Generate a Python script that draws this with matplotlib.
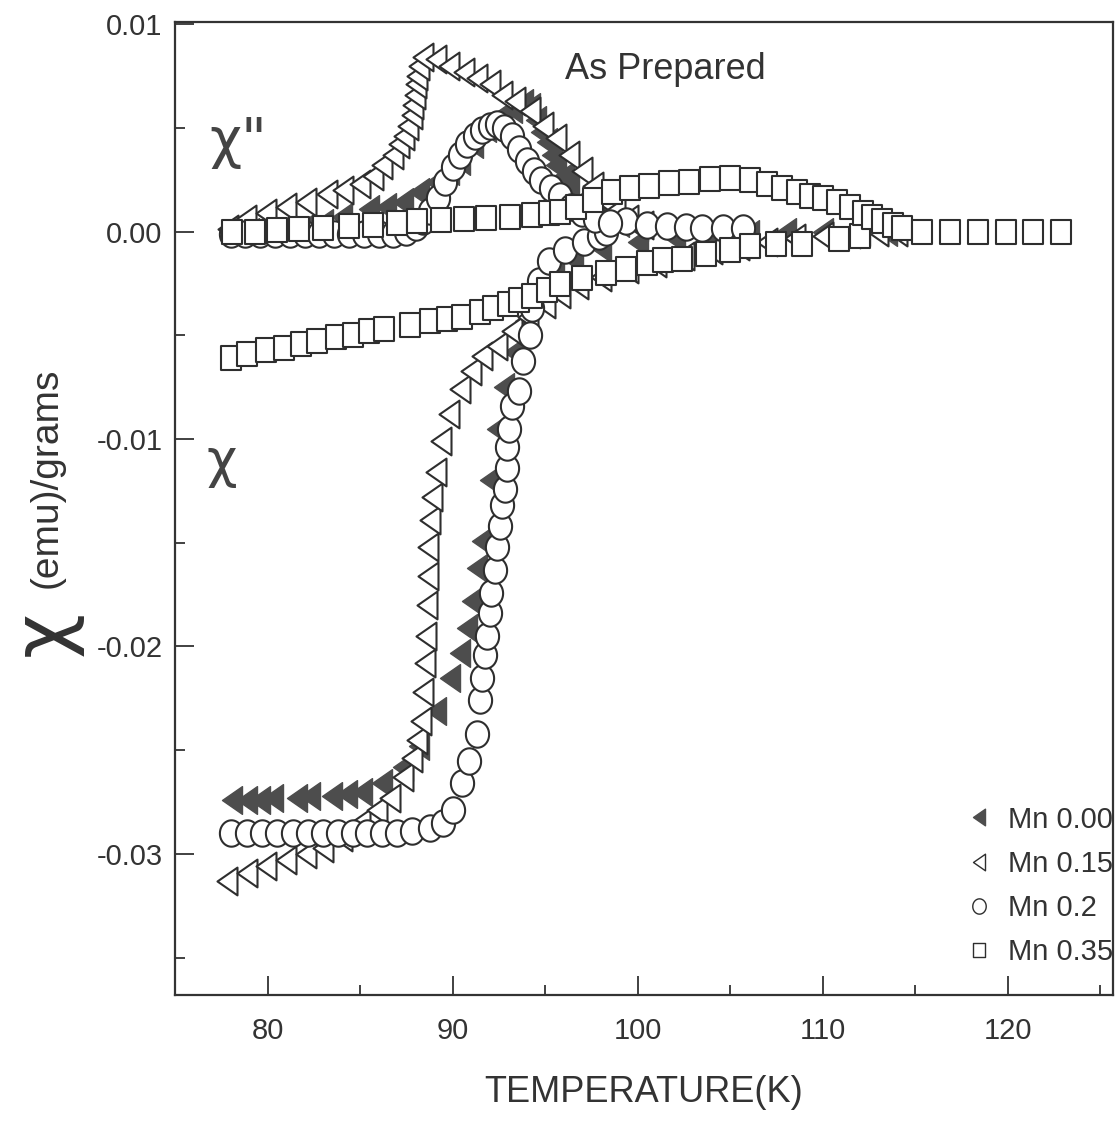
import numpy as np
import matplotlib
matplotlib.use("Agg")
import matplotlib.pyplot as plt
from matplotlib.path import Path
from matplotlib.lines import Line2D

plt.rcParams['font.family'] = ['Liberation Sans', 'DejaVu Sans']

# ---- data ----
# Mn 0.00 (filled triangles)
t00_real = [78.1, 78.9, 79.6, 80.3, 81.6, 82.3, 83.5, 84.3, 85.1, 86.2, 87.3, 88.2, 89.1,
            89.84, 90.38, 90.76, 91.03, 91.35, 91.57, 92.0, 92.4, 92.8, 93.3, 93.9, 94.6,
            95.5, 96.5, 98.0, 100.0, 102.0, 104.0, 106.0, 108.0, 110.0, 112.0, 113.5]
chi00_real = [-0.0274, -0.0274, -0.0274, -0.0273, -0.0273, -0.0272, -0.0272, -0.0271, -0.0270,
              -0.0266, -0.0258, -0.0248, -0.0231, -0.0215, -0.0203, -0.0191, -0.0178, -0.0162,
              -0.0149, -0.0120, -0.0095, -0.0075, -0.0058, -0.0043, -0.0030, -0.0020, -0.0013,
              -0.0008, -0.0005, -0.0003, -0.0002, -0.0001, 0.0, 0.0, 0.0, 0.0]
t00_imag = [78.0, 79.0, 80.0, 81.0, 82.0, 83.0, 84.0, 85.5, 86.4, 87.3, 88.2, 89.1, 89.8,
            90.4, 91.1, 91.8, 92.3, 92.7, 93.2, 93.8, 94.2, 94.5, 94.8, 95.1, 95.4, 95.6,
            96.0, 96.3, 97.0, 98.0, 99.0, 100.0]
chi00_imag = [0.0, 0.0, 0.0, 0.0001, 0.0002, 0.0004, 0.0007, 0.0011, 0.0012, 0.0014, 0.0019,
              0.0024, 0.0029, 0.0034, 0.0042, 0.0050, 0.0053, 0.0056, 0.0059, 0.0062, 0.0060,
              0.0054, 0.0048, 0.0043, 0.0037, 0.0032, 0.0027, 0.0023, 0.0015, 0.0008, 0.0004, 0.0002]

# Mn 0.15 (open triangles)
t15_real = [77.8, 78.9, 79.9, 81.0, 82.1, 83.0, 84.0, 85.0, 85.9, 86.6, 87.3, 87.8, 88.1,
            88.3, 88.4, 88.5, 88.55, 88.6, 88.65, 88.7, 88.8, 88.9, 89.1, 89.4, 89.8, 90.4,
            91.0, 91.6, 92.4, 93.2, 94.1, 95.0, 95.8, 96.8, 98.0, 99.5, 101.0, 102.5, 104.0,
            105.5, 107.0, 108.5, 110.0, 111.5, 113.0, 114.0]
chi15_real = [-0.0313, -0.0309, -0.0306, -0.0303, -0.0300, -0.0297, -0.0292, -0.0285, -0.0279,
              -0.0273, -0.0263, -0.0254, -0.0245, -0.0236, -0.0222, -0.0208, -0.0195, -0.0180,
              -0.0166, -0.0152, -0.0139, -0.0128, -0.0116, -0.0101, -0.0088, -0.0076, -0.0067,
              -0.0060, -0.0055, -0.0048, -0.0041, -0.0035, -0.0030, -0.0026, -0.0022, -0.0018,
              -0.0015, -0.0012, -0.0009, -0.0007, -0.0005, -0.0003, -0.0002, -0.0001, 0.0, 0.0]
t15_imag = [77.86, 78.85, 79.93, 81.0, 82.1, 83.2, 84.1, 85.0, 85.7, 86.2, 86.8, 87.1, 87.4,
            87.6, 87.8, 87.85, 87.95, 88.04, 88.1, 88.2, 88.4, 89.1, 89.8, 90.6, 91.3, 92.0,
            92.7, 93.4, 94.2, 94.9, 95.6, 96.3, 97.0, 97.6, 98.2, 98.8, 99.5, 100.3]
chi15_imag = [0.0001, 0.0006, 0.0009, 0.0012, 0.0014, 0.0018, 0.0020, 0.0023, 0.0027, 0.0032,
              0.0037, 0.0042, 0.0046, 0.0051, 0.0056, 0.0061, 0.0066, 0.0071, 0.0075, 0.0080,
              0.0084, 0.0083, 0.0080, 0.0077, 0.0074, 0.0071, 0.0066, 0.0063, 0.0058, 0.0051,
              0.0045, 0.0037, 0.0029, 0.0022, 0.0015, 0.0010, 0.0006, 0.0003]

# Mn 0.2 (circles)
t20_real = [78.0, 78.9, 79.7, 80.5, 81.4, 82.2, 83.0, 83.8, 84.6, 85.4, 86.2, 87.0, 87.8,
            88.8, 89.5, 90.0, 90.5, 90.9, 91.3, 91.46, 91.62, 91.73, 91.89, 92.0, 92.1, 92.27,
            92.38, 92.54, 92.65, 92.81, 92.92, 92.97, 93.08, 93.24, 93.6, 93.8, 94.2, 94.3,
            94.7, 95.2, 96.1, 97.1, 97.9, 98.3, 99.4, 100.5, 101.6, 102.6, 103.5, 104.6, 105.7]
chi20_real = [-0.0290, -0.0290, -0.0290, -0.0290, -0.0290, -0.0290, -0.0290, -0.0290, -0.0290,
              -0.0290, -0.0290, -0.0290, -0.0289, -0.02875, -0.0285, -0.0279, -0.0266, -0.0255,
              -0.0242, -0.0226, -0.0215, -0.0204, -0.0195, -0.0184, -0.0174, -0.0163, -0.0152,
              -0.0142, -0.0132, -0.0124, -0.0114, -0.0104, -0.0095, -0.0084, -0.0077, -0.00625,
              -0.0050, -0.0037, -0.0024, -0.0014, -0.0009, -0.0005, -0.0002, 0.0, 0.0005,
              0.0003, 0.00025, 0.0002, 0.00015, 0.00015, 0.00015]
t20_imag = [78.0, 78.8, 79.6, 80.4, 81.2, 82.0, 82.8, 83.6, 84.4, 85.2, 86.0, 86.8, 87.5,
            88.0, 88.4, 88.8, 89.2, 89.6, 90.0, 90.4, 90.8, 91.2, 91.6, 92.0, 92.4, 92.8,
            93.2, 93.6, 94.0, 94.4, 94.8, 95.3, 95.8, 96.4, 97.0, 97.7, 98.5]
chi20_imag = [-0.0001, -0.0001, -0.0001, -0.0001, -0.0001, -0.0001, -0.0001, -0.0001, -0.0001,
              -0.0001, -0.0001, -0.0001, 0.0, 0.0002, 0.0005, 0.0010, 0.0016, 0.0024, 0.0031,
              0.0037, 0.0042, 0.0046, 0.0049, 0.0051, 0.0052, 0.0050, 0.0046, 0.0040, 0.0034,
              0.0029, 0.0025, 0.0021, 0.0017, 0.0012, 0.0009, 0.0006, 0.0004]

# Mn 0.35 (squares)
t35_real = [78.05, 78.9, 79.9, 80.9, 81.8, 82.7, 83.7, 84.6, 85.5, 86.3, 87.7, 88.8, 89.7,
            90.5, 91.5, 92.2, 93.0, 93.6, 94.3, 95.1, 95.8, 97.0, 98.3, 99.4, 100.5, 101.4,
            102.4, 103.7, 105.0, 106.1, 107.5, 108.9, 110.9, 112.0]
chi35_real = [-0.0061, -0.0059, -0.0057, -0.0056, -0.0054, -0.0053, -0.0051, -0.0050, -0.0048,
              -0.0047, -0.0045, -0.0043, -0.0042, -0.0041, -0.0039, -0.0037, -0.0035, -0.0033,
              -0.0031, -0.0028, -0.00255, -0.00226, -0.0020, -0.0018, -0.0015, -0.00135,
              -0.0013, -0.0011, -0.00087, -0.0007, -0.0006, -0.00058, -0.00034, -0.0002]
t35_imag = [78.1, 79.3, 80.5, 81.7, 83.0, 84.4, 85.7, 87.0, 88.1, 89.4, 90.6, 91.8, 93.1,
            94.3, 95.2, 95.8, 96.7, 97.6, 98.6, 99.6, 100.6, 101.7, 102.8, 103.9, 105.0,
            106.1, 107.0, 107.8, 108.6, 109.3, 110.0, 110.8, 111.5, 112.2, 112.7, 113.2,
            113.8, 114.3, 115.4, 116.9, 118.4, 119.9, 121.4, 122.9]
chi35_imag = [0.0, 0.0, 0.00005, 0.0001, 0.00015, 0.00025, 0.0003, 0.0004, 0.0005, 0.00055,
              0.0006, 0.00065, 0.0007, 0.0008, 0.0009, 0.00096, 0.0012, 0.0015, 0.0019, 0.0021,
              0.0022, 0.00235, 0.0024, 0.00255, 0.0026, 0.0025, 0.0023, 0.0021, 0.0019, 0.0017,
              0.0016, 0.0014, 0.0012, 0.0009, 0.0007, 0.0005, 0.0003, 0.00015, 0.0, 0.0, 0.0,
              0.0, 0.0, 0.0]

labels = ['Mn 0.00', 'Mn 0.15', 'Mn 0.2', 'Mn 0.35']

# ---- marker shapes (slightly taller than wide, like the scan) ----
tri_left = Path([(-0.72, 0), (0.72, 1), (0.72, -1), (-0.72, 0)],
                [Path.MOVETO, Path.LINETO, Path.LINETO, Path.CLOSEPOLY])
th = np.linspace(0, 2 * np.pi, 60)
ellipse = Path(np.column_stack([0.88 * np.cos(th), np.sin(th)]), closed=True)
rect = Path([(-0.43, -0.5), (0.43, -0.5), (0.43, 0.5), (-0.43, 0.5), (-0.43, -0.5)],
            [Path.MOVETO, Path.LINETO, Path.LINETO, Path.LINETO, Path.CLOSEPOLY])

ec = '#2e2e2e'
fig = plt.figure(figsize=(11.2, 11.24), dpi=100)
ax = fig.add_axes([175 / 1120, 1 - 995 / 1124, (1113 - 175) / 1120, (995 - 22) / 1124])

style00 = dict(ls='none', marker=tri_left, ms=20, mfc='#4d4d4d', mec='#4d4d4d', mew=1.0, zorder=2)
style15 = dict(ls='none', marker=tri_left, ms=20, mfc='white', mec=ec, mew=1.5, zorder=3)
style20 = dict(ls='none', marker=ellipse, ms=19, mfc='white', mec=ec, mew=1.5, zorder=4)
style35 = dict(ls='none', marker=rect, ms=17, mfc='white', mec=ec, mew=1.5, zorder=5)

ax.plot(t00_real, chi00_real, **style00)
ax.plot(t00_imag, chi00_imag, **style00)
ax.plot(t15_real, chi15_real, **style15)
ax.plot(t15_imag, chi15_imag, **style15)
ax.plot(t20_real, chi20_real, **style20)
ax.plot(t20_imag, chi20_imag, **style20)
ax.plot(t35_real, chi35_real, **style35)
ax.plot(t35_imag, chi35_imag, **style35)

ax.set_xlim(75, 125.7)
ax.set_ylim(-0.0368, 0.0101)
ax.set_xticks([80, 90, 100, 110, 120])
ax.set_xticks([85, 95, 105, 115, 125], minor=True)
ax.set_yticks([0.01, 0.0, -0.01, -0.02, -0.03])
ax.set_yticklabels(['0.01', '0.00', '-0.01', '-0.02', '-0.03'])
ax.set_yticks([0.005, -0.005, -0.015, -0.025, -0.035], minor=True)
ax.tick_params(which='both', direction='in', colors='#333333', labelcolor='#333333',
               labelsize=21, width=1.3)
ax.tick_params(which='major', length=14)
ax.tick_params(which='minor', length=7)
ax.tick_params(axis='x', which='major', pad=16)
ax.tick_params(axis='y', which='major', pad=9)
for s in ax.spines.values():
    s.set_linewidth(1.6)
    s.set_color('#333333')

ax.set_xlabel('TEMPERATURE(K)', fontsize=26, color='#333333')
ax.xaxis.set_label_coords(0.5, -0.082)

ax.text(101.5, 0.0078, 'As Prepared', fontsize=26, color='#333333',
        ha='center', va='center')
ax.text(78.4, 0.0043, 'χ"', fontsize=40, family=['DejaVu Sans'], color='#444444',
        ha='center', va='center')
ax.text(77.5, -0.0111, 'χ', fontsize=38, family=['DejaVu Sans'], color='#444444',
        ha='center', va='center')

fig.text(45 / 1120, 1 - 634 / 1124, 'χ', rotation=90, fontsize=56, family=['DejaVu Sans'],
         color='#333333', ha='center', va='center')
fig.text(47 / 1120, 1 - 478 / 1124, '(emu)/grams', rotation=90, fontsize=28,
         color='#333333', ha='center', va='center')

handles = [
    Line2D([], [], ls='none', marker=tri_left, ms=12, mfc='#4d4d4d', mec='#4d4d4d'),
    Line2D([], [], ls='none', marker=tri_left, ms=12, mfc='white', mec=ec, mew=1.0),
    Line2D([], [], ls='none', marker=ellipse, ms=11, mfc='white', mec=ec, mew=1.0),
    Line2D([], [], ls='none', marker=rect, ms=10, mfc='white', mec=ec, mew=1.0),
]
leg = ax.legend(handles, labels, loc='lower right', bbox_to_anchor=(1.0, 0.03),
                frameon=False, fontsize=21, handlelength=1.0, handletextpad=0.5,
                labelspacing=0.55, borderpad=0, borderaxespad=0)
for t in leg.get_texts():
    t.set_color('#333333')

fig.savefig('out.png', dpi=100)
